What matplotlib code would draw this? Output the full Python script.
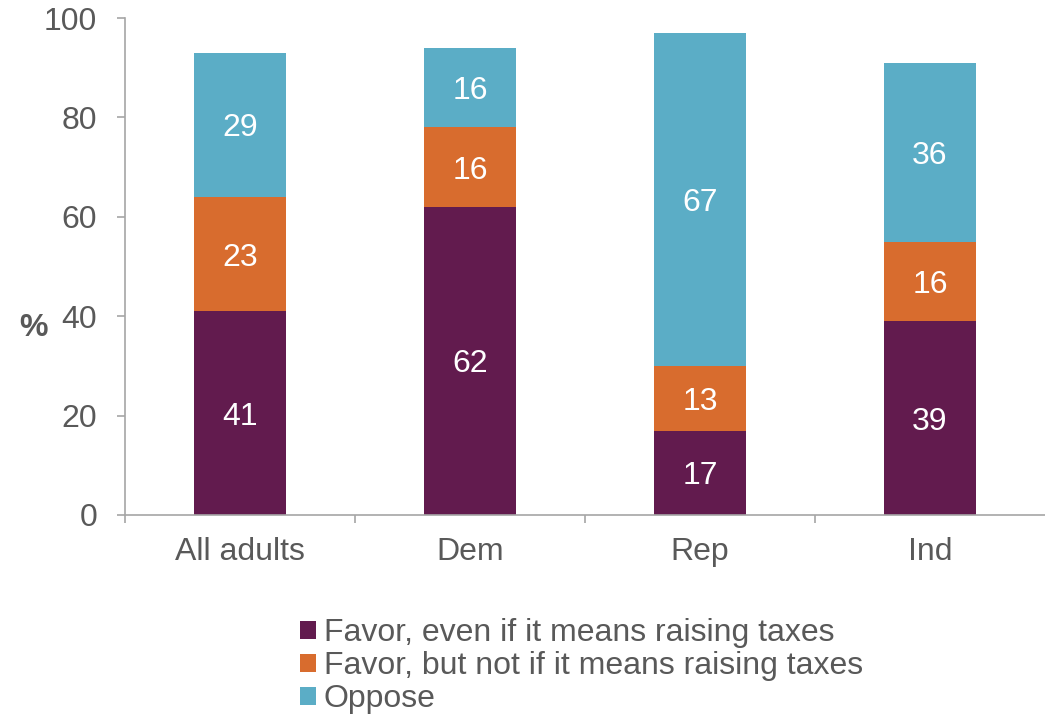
import numpy as np
import matplotlib.pyplot as plt
from matplotlib.patches import Patch

plt.rcParams['font.family'] = ['Liberation Sans', 'DejaVu Sans']

groups = ['All adults', 'Dem', 'Rep', 'Ind']
favor_taxes = [41, 62, 17, 39]
favor_no_taxes = [23, 16, 13, 16]
oppose = [29, 16, 67, 36]
series_names = ['Favor, even if it means raising taxes',
                'Favor, but not if it means raising taxes',
                'Oppose']
colors = ['#621B4E', '#D86C2E', '#5BADC6']

grey_text = '#595959'
grey_line = '#A6A6A6'
fs = 23

fig = plt.figure(figsize=(10.45, 7.17), dpi=100)
ax = fig.add_axes([125 / 1045, 1 - 515 / 717, 1 - 125 / 1045, (515 - 18) / 717])

x = np.arange(len(groups))
bottom = np.zeros(len(groups))
for vals, col in zip([favor_taxes, favor_no_taxes, oppose], colors):
    vals = np.array(vals)
    ax.bar(x, vals, width=0.4, bottom=bottom, color=col)
    for xi, b, v in zip(x, bottom, vals):
        ax.text(xi, b + v / 2, str(v), ha='center', va='center_baseline',
                color='white', fontsize=fs)
    bottom += vals

ax.set_xlim(-0.5, 3.5)
ax.set_ylim(0, 100)
ax.set_yticks([0, 20, 40, 60, 80, 100])
ax.set_xticks(x)
ax.set_xticklabels(groups)
ax.set_xticks([-0.5, 0.5, 1.5, 2.5], minor=True)

for s in ['top', 'right']:
    ax.spines[s].set_visible(False)
for s in ['left', 'bottom']:
    ax.spines[s].set_color(grey_line)
    ax.spines[s].set_linewidth(1.2)

ax.tick_params(axis='y', direction='out', length=6, width=1.2, color=grey_line,
               labelsize=fs, labelcolor=grey_text, pad=14)
ax.tick_params(axis='x', which='major', length=0, labelsize=fs,
               labelcolor=grey_text, pad=16)
ax.tick_params(axis='x', which='minor', direction='out', length=6, width=1.2,
               color=grey_line)

fig.text(33 / 1045, 1 - 328 / 717, '%', fontsize=fs, fontweight='bold',
         color=grey_text, ha='center', va='center')

handles = [Patch(facecolor=c, edgecolor='none') for c in colors]
fig.legend(handles, series_names, loc='upper left',
           bbox_to_anchor=(284 / 1045, 1 - 602 / 717), frameon=False,
           fontsize=fs, handlelength=0.5, handleheight=0.5,
           handletextpad=0.25, labelspacing=0.1, borderpad=0,
           labelcolor=grey_text)

fig.savefig('out.png', dpi=100)
